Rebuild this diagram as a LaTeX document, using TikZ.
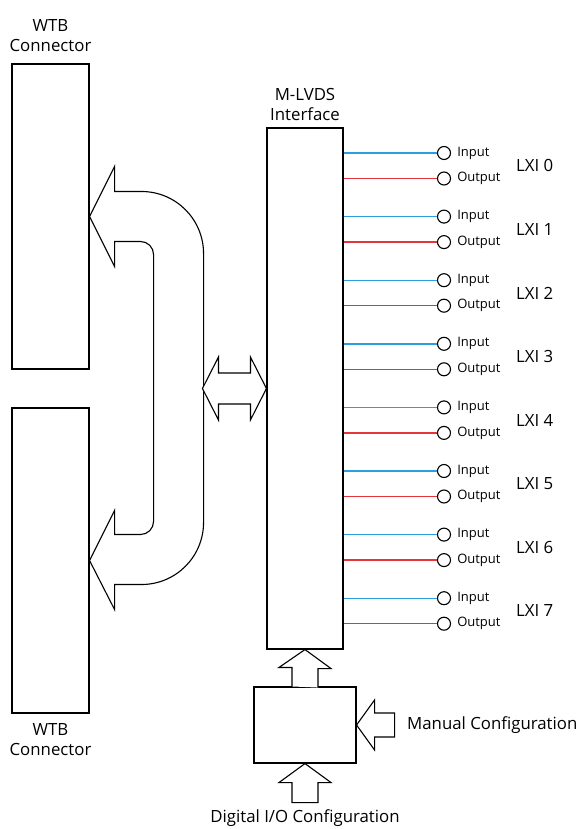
\documentclass[tikz,border=0pt]{standalone}
\usepackage{fontspec}
\setmainfont{Open Sans}
\usepackage{tikz}
\usetikzlibrary{positioning}
\definecolor{inblue}{RGB}{42,160,218}
\definecolor{outred}{RGB}{230,52,62}
\tikzstyle{box}=[draw,line width=1.1pt,inner sep=0pt]
\tikzstyle{port}=[draw,circle,line width=1.1pt,minimum size=13pt,inner sep=0pt]
\tikzstyle{biglbl}=[font=\fontsize{16.8}{20}\selectfont,align=center,inner sep=1pt]
\tikzstyle{smalllbl}=[font=\fontsize{13}{15}\selectfont,inner sep=1pt]
\tikzstyle{blockarrow}=[draw,fill=white,line width=1.1pt,line join=miter]
\tikzstyle{inwire}=[draw=inblue,line width=1.4pt]
\tikzstyle{outwire}=[draw=outred,line width=1.4pt]

\begin{document}
\begin{tikzpicture}[x=1pt,y=-1pt,node distance=10pt]
\useasboundingbox (0,0) rectangle (582,829);
\node[box,minimum width=77pt,minimum height=305pt] (wtb_a) at (50.5,216.5) {};
\node[box,minimum width=77pt,minimum height=305pt] (wtb_b) at (50.5,560.5) {};
\node[box,minimum width=76pt,minimum height=521pt] (mlvds) at (305,388.5) {};
\node[box,minimum width=102pt,minimum height=76pt] (cfg) at (305,725) {};
\node[biglbl] (wtb_a_lbl) [above=11pt of wtb_a] {WTB\\Connector};
\node[biglbl] (wtb_b_lbl) [below=9pt of wtb_b] {WTB\\Connector};
\node[biglbl] (mlvds_lbl) [above=6pt of mlvds] {M-LVDS\\Interface};
\node[biglbl,anchor=west] (man_lbl) at (406,725) {Manual Configuration};
\node[biglbl] (dio_lbl) at (305,818) {Digital I/O Configuration};
\foreach \i in {0,...,7} {
  \node[port] (in_\i) at (444,153+63.6*\i) {};
  \node[port] (out_\i) at (444,178.5+63.6*\i) {};
  \node[smalllbl] (in_\i_lbl) [right=5pt of in_\i] {Input};
  \node[smalllbl] (out_\i_lbl) [right=5pt of out_\i] {Output};
  \node[biglbl,anchor=west] (lxi_\i) at (515,165.75+63.6*\i) {LXI \i};
  \path[inwire] (mlvds.east |- in_\i) -- (in_\i);
  \path[outwire] (mlvds.east |- out_\i) -- (out_\i);
}
\path[blockarrow] (wtb_a.east) -- ++(25,-50) -- ++(0,25) -- ++(27,0)
  arc[start angle=-90,end angle=0,radius=62] -- ++(0,269)
  arc[start angle=0,end angle=90,radius=62] -- ++(-27,0) -- ++(0,25)
  -- (wtb_b.east) -- ++(25,-50) -- ++(0,24) -- ++(26,0)
  arc[start angle=90,end angle=0,radius=13] -- ++(0,-267)
  arc[start angle=0,end angle=-90,radius=13] -- ++(-26,0) -- ++(0,25) -- cycle;
\path[blockarrow] (mlvds.west) -- ++(-16,31.5) -- ++(0,-16) -- ++(-32,0) -- ++(0,16)
  -- ++(-16,-31.5) -- ++(16,-31.5) -- ++(0,16) -- ++(32,0) -- ++(0,-16) -- cycle;
\path[blockarrow] (cfg.north) ++(-13,0) -- ++(0,-19) -- ++(-13,0) -- (mlvds.south)
  -- ++(26,19) -- ++(-13,0) -- ++(0,19);
\path[blockarrow] (cfg.south) -- ++(26,19) -- ++(-13,0) -- ++(0,20) -- ++(-26,0)
  -- ++(0,-20) -- ++(-13,0) -- cycle;
\path[blockarrow] (cfg.east) -- ++(18,-25) -- ++(0,13) -- ++(20,0) -- ++(0,24)
  -- ++(-20,0) -- ++(0,13) -- cycle;
\end{tikzpicture}
\end{document}
